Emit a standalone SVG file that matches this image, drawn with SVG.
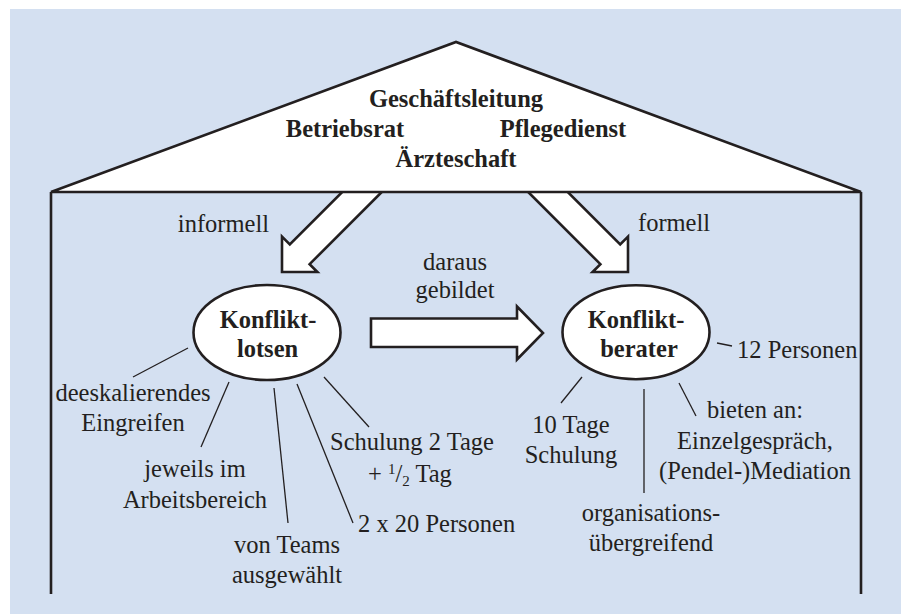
<svg xmlns="http://www.w3.org/2000/svg" width="901" height="614" viewBox="0 0 901 614">
<style>
text{font-family:Liberation Serif,Times New Roman,DejaVu Serif,serif;font-size:24.5px;fill:#231f20}
.b{font-weight:bold}
.m{text-anchor:middle}
.e{text-anchor:end}
.blk{fill:#fff;stroke:#231f20;stroke-width:2.6;stroke-linejoin:miter}
.spoke{stroke:#231f20;stroke-width:1.3;fill:none}
.wall{stroke:#231f20;stroke-width:2.6;fill:none}
.sup{font-size:15px}
</style>
<rect x="10" y="9" width="891" height="605" fill="#d4e0f1"/>
<g id="connectors">
  <polygon id="arrow-informell" class="blk" points="282,272 317.4,272 309.6,264.2 403.8,170 364.2,170 289.8,244.4 282,236.6"/>
  <polygon id="arrow-formell" class="blk" points="628,272 592.6,272 600.4,264.2 506.2,170 545.8,170 620.2,244.4 628,236.6"/>
</g>
<g id="house">
  <polygon class="blk" points="51,192 456,42 861,192" stroke-width="2.8"/>
  <line class="wall" x1="51" y1="192" x2="51" y2="594"/>
  <line class="wall" x1="861" y1="192" x2="861" y2="594"/>
</g>
<g id="leitung">
  <text class="b m" x="456" y="107">Geschäftsleitung</text>
  <text class="b m" x="345" y="137">Betriebsrat</text>
  <text class="b m" x="563" y="137">Pflegedienst</text>
  <text class="b m" x="456" y="167">Ärzteschaft</text>
</g>
<g id="connectors2">
  <polygon id="arrow-gebildet" class="blk" points="371,318.5 517,318.5 517,306.5 543,333 517,359.5 517,347 371,347"/>
  <line class="spoke" x1="188" y1="348" x2="133" y2="377"/>
  <line class="spoke" x1="229" y1="382" x2="201" y2="447"/>
  <line class="spoke" x1="274" y1="388" x2="288" y2="523"/>
  <line class="spoke" x1="297" y1="384" x2="353" y2="523"/>
  <line class="spoke" x1="324" y1="377" x2="369" y2="427"/>
  <line class="spoke" x1="717" y1="343" x2="732" y2="346"/>
  <line class="spoke" x1="582" y1="377" x2="561" y2="403"/>
  <line class="spoke" x1="644" y1="389" x2="644" y2="493"/>
  <line class="spoke" x1="679" y1="383" x2="696" y2="416"/>
</g>
<g id="edge-labels">
  <text class="e" x="269" y="232">informell</text>
  <text x="638" y="231">formell</text>
  <text class="m" x="455" y="270">daraus</text>
  <text class="m" x="455" y="298">gebildet</text>
</g>
<g id="konfliktlotsen">
  <ellipse class="blk" cx="267" cy="332.5" rx="73.5" ry="47.5"/>
  <text class="b m" x="268" y="328">Konflikt-</text>
  <text class="b m" x="267.5" y="357">lotsen</text>
</g>
<g id="konfliktberater">
  <ellipse class="blk" cx="636" cy="332.2" rx="73.5" ry="47"/>
  <text class="b m" x="636" y="328">Konflikt-</text>
  <text class="b m" x="639" y="357">berater</text>
</g>
<g id="lotsen-attrs">
  <text class="m" x="133" y="401">deeskalierendes</text>
  <text class="m" x="133" y="431">Eingreifen</text>
  <text class="m" x="195" y="477">jeweils im</text>
  <text class="m" x="195" y="508">Arbeitsbereich</text>
  <text class="m" x="287" y="553">von Teams</text>
  <text class="m" x="287" y="583">ausgewählt</text>
  <text x="358" y="532">2 x 20 Personen</text>
  <text class="m" x="412" y="450">Schulung 2 Tage</text>
  <text x="368" y="482">+ <tspan class="sup" dy="-8">1</tspan><tspan dy="8">/</tspan><tspan class="sup" dy="4">2</tspan><tspan dy="-4"> Tag</tspan></text>
</g>
<g id="berater-attrs">
  <text x="737" y="358">12 Personen</text>
  <text class="m" x="571" y="433">10 Tage</text>
  <text class="m" x="571" y="463">Schulung</text>
  <text class="m" x="651" y="521">organisations-</text>
  <text class="m" x="651" y="551">übergreifend</text>
  <text class="m" x="755" y="418">bieten an:</text>
  <text class="m" x="755" y="449">Einzelgespräch,</text>
  <text class="m" x="755" y="479">(Pendel-)Mediation</text>
</g>
</svg>
